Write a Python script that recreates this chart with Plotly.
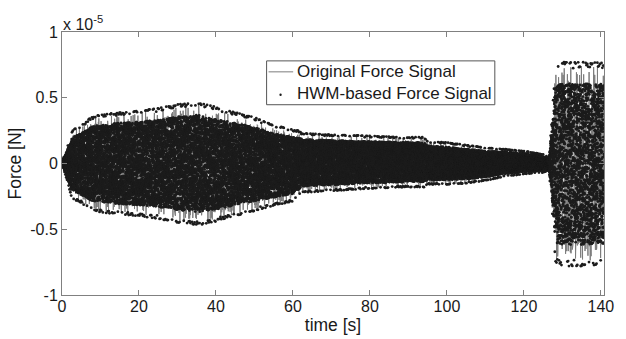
import numpy as np
import plotly.graph_objects as go

# Envelope of the recorded force (units of 1e-5 N) at selected times [s]
ENV_T = [0.0, 0.5, 1.5, 2.5, 3.5, 5, 7, 8, 10, 15, 20, 25, 30, 33, 35, 37, 40, 45, 50, 55,
         60, 61.5, 62.5, 70, 80, 90, 94, 95, 100, 105, 110, 115, 120, 125, 126.5, 127.3,
         128.2, 130, 135, 140, 140.8]
ENV_UPPER = [0.02, 0.05, 0.14, 0.24, 0.27, 0.29, 0.34, 0.36, 0.37, 0.39, 0.40, 0.42, 0.45,
             0.46, 0.47, 0.45, 0.43, 0.39, 0.35, 0.29, 0.26, 0.25, 0.23, 0.22, 0.21, 0.20,
             0.20, 0.17, 0.16, 0.14, 0.12, 0.11, 0.095, 0.07, 0.05, 0.35, 0.76, 0.77, 0.77,
             0.77, 0.77]
ENV_LOWER = [-0.02, -0.05, -0.15, -0.26, -0.28, -0.30, -0.35, -0.36, -0.37, -0.39, -0.40,
             -0.42, -0.45, -0.46, -0.47, -0.46, -0.44, -0.40, -0.36, -0.32, -0.29, -0.25,
             -0.22, -0.21, -0.19, -0.18, -0.18, -0.16, -0.16, -0.15, -0.13, -0.10, -0.08,
             -0.07, -0.05, -0.35, -0.76, -0.78, -0.78, -0.77, -0.77]

SERIES_NAMES = ["Original Force Signal", "HWM-based Force Signal"]
X_TICKS = [0, 20, 40, 60, 80, 100, 120, 140]
Y_TICKS = [-1, -0.5, 0, 0.5, 1]
Y_TICK_TEXT = ["-1", "-0.5", "0", "0.5", "1"]

T_END = 140.8
N_LINE = 2400
N_DOT = 26000

LINE_COLOR = "#7c7c7c"
DOT_COLOR = "#1c1c1c"
FAMILY = "Liberation Sans, Arial, sans-serif"
TEXT_COLOR = "#1a1a1a"


def envelope(t):
    up = np.interp(t, ENV_T, ENV_UPPER)
    lo = np.interp(t, ENV_T, ENV_LOWER)
    return (up + lo) / 2, (up - lo) / 2


# Original signal: swept oscillation whose peaks vary below the envelope
n = np.arange(N_LINE)
t_line = np.linspace(0, T_END, N_LINE)
mid, half = envelope(t_line)
phase = 2 * np.pi * (0.03778 * n ** 2 + 0.2113 * n)
peak = 0.68 + 0.29 * np.abs(np.sin(2 * np.pi * 0.0617 * n ** 2))
y_line = mid + half * peak * np.sin(phase)

# HWM-based reconstruction: evenly spread interior samples, every 40th sample on the envelope
m = np.arange(N_DOT)
t_dot = np.linspace(0, T_END, N_DOT)
mid_d, half_d = envelope(t_dot)
psi = 2 * np.pi * (0.02913 * m ** 2 + 0.1371 * m)
tri = (2 / np.pi) * np.arcsin(np.sin(psi))
rim = m % 40 == 0
rim_level = np.sign(np.sin(psi)) * (0.94 + 0.06 * np.abs(np.cos(psi)))
y_dot = mid_d + half_d * np.where(rim, rim_level, 0.79 * tri)

fig = go.Figure()
fig.add_trace(go.Scatter(
    x=t_line, y=y_line, mode="lines", name=SERIES_NAMES[0],
    line=dict(color=LINE_COLOR, width=1), showlegend=False,
))
fig.add_trace(go.Scatter(
    x=t_dot, y=y_dot, mode="markers", name=SERIES_NAMES[1],
    marker=dict(color=DOT_COLOR, size=2.8, line=dict(width=0)), showlegend=False,
))

# Plot-area geometry in pixels, used to place the boxed legend
PX_L, PX_R, PX_T, PX_B = 62, 613, 32, 296


def px(xp):
    return (xp - PX_L) / (PX_R - PX_L)


def py(yp):
    return (PX_B - yp) / (PX_B - PX_T)


shapes = [
    dict(type="rect", xref="paper", yref="paper", x0=px(270), x1=px(502), y0=py(105), y1=py(61),
         line=dict(color="#555555", width=1), fillcolor="white", layer="above"),
    dict(type="line", xref="paper", yref="paper", x0=px(272), x1=px(297), y0=py(72), y1=py(72),
         line=dict(color=LINE_COLOR, width=1), layer="above"),
    dict(type="circle", xref="paper", yref="paper", x0=px(283), x1=px(285.4), y0=py(96.2),
         y1=py(93.8), line=dict(width=0), fillcolor=DOT_COLOR, layer="above"),
]

annotations = [
    dict(text=SERIES_NAMES[0], xref="paper", yref="paper", x=px(299), y=py(72),
         xanchor="left", yanchor="middle", showarrow=False,
         font=dict(family=FAMILY, size=17, color=TEXT_COLOR)),
    dict(text=SERIES_NAMES[1], xref="paper", yref="paper", x=px(299), y=py(94),
         xanchor="left", yanchor="middle", showarrow=False,
         font=dict(family=FAMILY, size=17, color=TEXT_COLOR)),
    dict(text="x 10<sup>-5</sup>", xref="paper", yref="paper", x=0.0, y=1.0,
         xanchor="left", yanchor="bottom", showarrow=False, xshift=-1, yshift=-3,
         font=dict(family=FAMILY, size=16, color=TEXT_COLOR)),
]

tick_font = dict(family=FAMILY, size=16, color=TEXT_COLOR)
title_font = dict(family=FAMILY, size=17.5, color=TEXT_COLOR)

fig.update_layout(
    width=626, height=339,
    margin=dict(l=PX_L, r=626 - PX_R, t=PX_T, b=339 - PX_B),
    paper_bgcolor="white", plot_bgcolor="white",
    showlegend=False,
    shapes=shapes,
    annotations=annotations,
    xaxis=dict(
        range=[0, T_END], tickvals=X_TICKS, ticks="inside", ticklen=5,
        tickcolor="#808080", showline=True, linecolor="#808080", linewidth=1,
        mirror="ticks", showgrid=False, zeroline=False, tickfont=tick_font,
        ticklabelstandoff=-3,
        title=dict(text="time [s]", standoff=0, font=title_font),
    ),
    yaxis=dict(
        range=[-1, 1], tickvals=Y_TICKS, ticktext=Y_TICK_TEXT, ticks="inside", ticklen=5,
        tickcolor="#808080", showline=True, linecolor="#808080", linewidth=1,
        mirror="ticks", showgrid=False, zeroline=False, tickfont=tick_font,
        title=dict(text="Force [N]", standoff=4, font=title_font),
    ),
)

fig.write_html("out.html")
